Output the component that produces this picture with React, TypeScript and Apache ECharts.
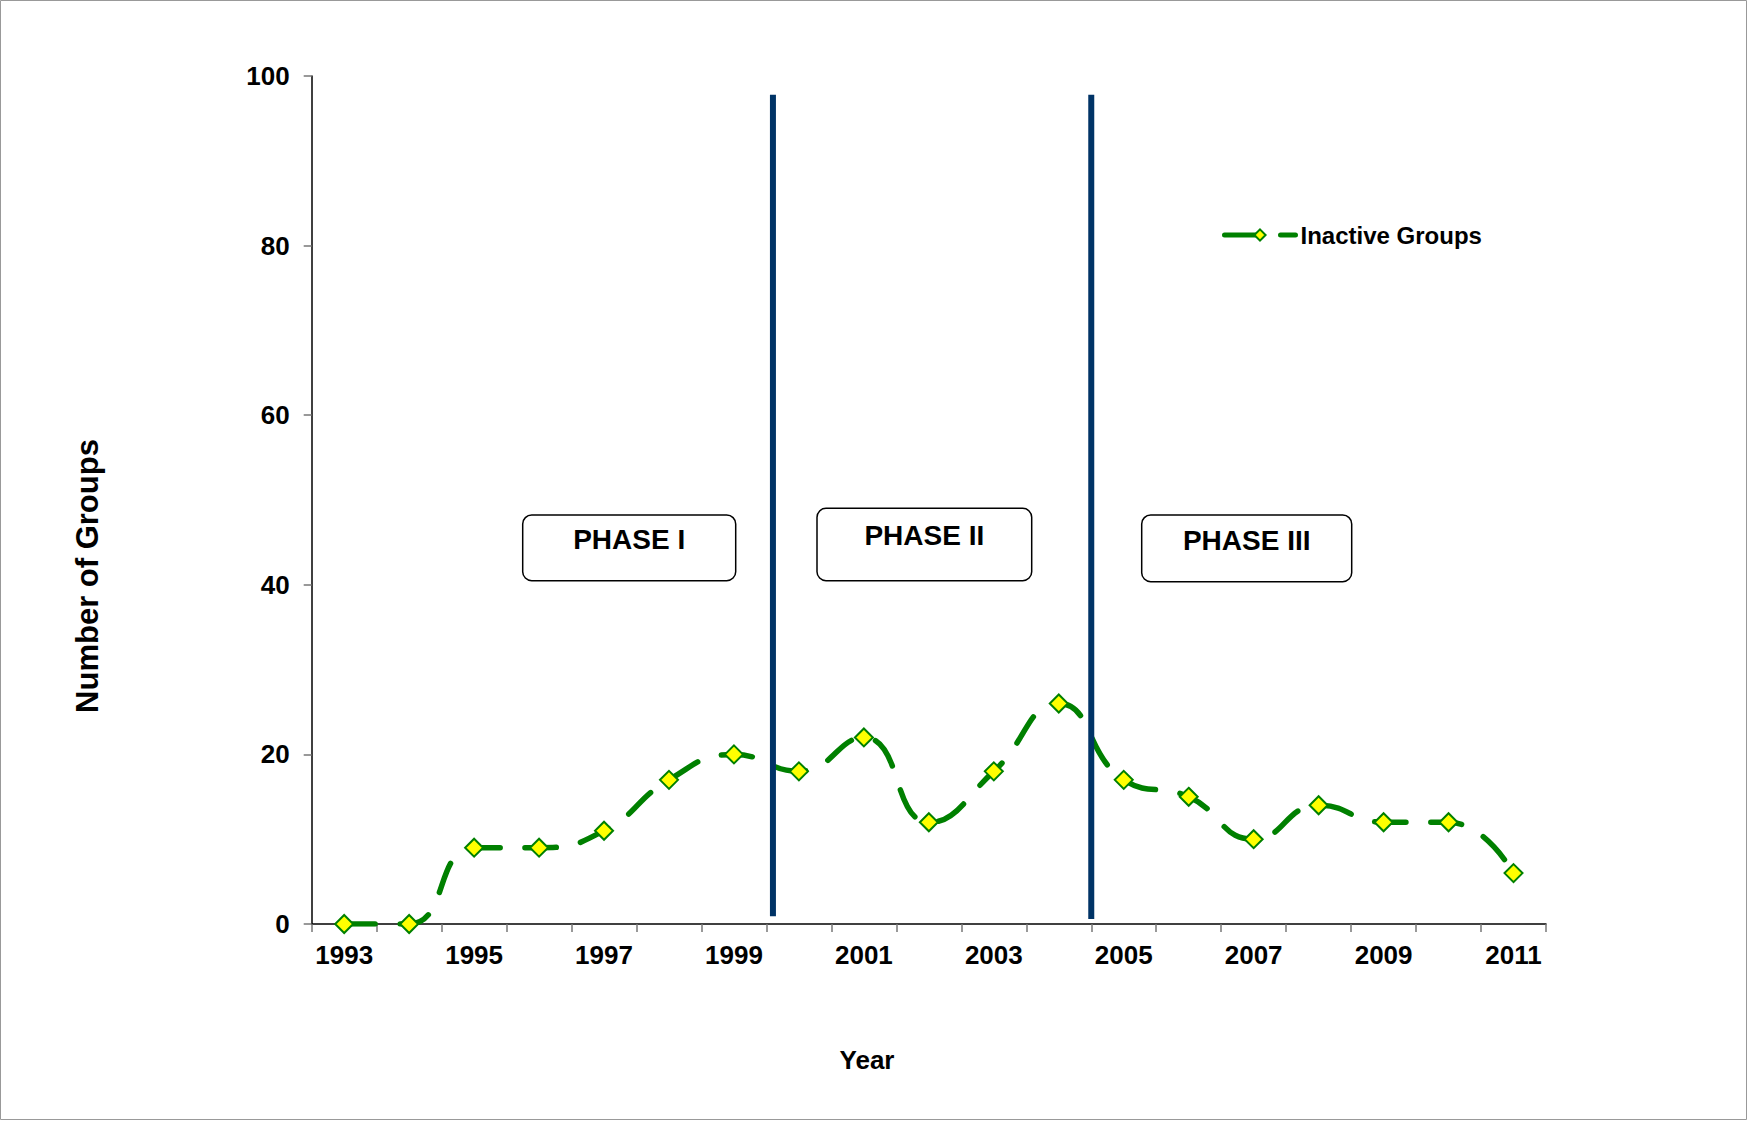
import React, { useEffect, useRef } from "react";
import * as echarts from "echarts";

const years = ["1993","1994","1995","1996","1997","1998","1999","2000","2001","2002","2003","2004","2005","2006","2007","2008","2009","2010","2011"];
const inactiveGroups = [0, 0, 9, 9, 11, 17, 20, 18, 22, 12, 18, 26, 17, 15, 10, 14, 12, 12, 6];
const phaseBoundaries = [7.1, 12];
const phaseLineTop = [97.8, 97.8];
const phaseLineBottom = [0.9, 0.6];
const phaseLabels = ["PHASE I", "PHASE II", "PHASE III"];
const yTicks = { min: 0, max: 100, interval: 20 };

const FONT = '"Liberation Sans", Arial, sans-serif';

export default function App() {
  const ref = useRef<HTMLDivElement>(null);
  useEffect(() => {
    document.body.style.margin = "0";
    if (!ref.current) return;
    const chart = echarts.init(ref.current, null, { renderer: "svg" });

    const boxes = [
      { x: 522.7, y: 515, w: 213, h: 65.7, ty: 539.6 },
      { x: 817, y: 508.3, w: 214.7, h: 72.4, ty: 535 },
      { x: 1141.7, y: 515, w: 210, h: 66.7, ty: 540.7 },
    ];

    const graphic: any[] = [
      {
        type: "rect",
        shape: { x: 0.5, y: 0.5, width: 1746, height: 1119 },
        style: { fill: "none", stroke: "#999", lineWidth: 1 },
        silent: true,
        z: 0,
      },
      {
        type: "text",
        x: 87,
        y: 576,
        rotation: Math.PI / 2,
        style: {
          text: "Number of Groups",
          font: `bold 31px ${FONT}`,
          fill: "#000",
          align: "center",
          verticalAlign: "middle",
          textAlign: "center",
          textVerticalAlign: "middle",
        },
      },
      {
        type: "text",
        x: 867,
        y: 1060,
        style: {
          text: "Year",
          font: `bold 26px ${FONT}`,
          fill: "#000",
          align: "center",
          verticalAlign: "middle",
          textAlign: "center",
          textVerticalAlign: "middle",
        },
      },
    ];
    boxes.forEach((b, i) => {
      graphic.push({
        type: "rect",
        shape: { x: b.x, y: b.y, width: b.w, height: b.h, r: 9 },
        style: { fill: "#fff", stroke: "#000", lineWidth: 1.5 },
        z: 10,
      });
      graphic.push({
        type: "text",
        x: b.x + b.w / 2,
        y: b.ty,
        z: 11,
        style: {
          text: phaseLabels[i],
          font: `bold 28px ${FONT}`,
          fill: "#000",
          align: "center",
          verticalAlign: "middle",
          textAlign: "center",
          textVerticalAlign: "middle",
        },
      });
    });

    const phaseSeries = phaseBoundaries.map((b, i) => ({
      name: "phase" + i,
      type: "line",
      xAxisIndex: 1,
      yAxisIndex: 0,
      data: [[b, phaseLineBottom[i]], [b, phaseLineTop[i]]],
      symbol: "none",
      lineStyle: { color: "#003366", width: 6, cap: "butt" },
      z: 5,
      silent: true,
    }));

    chart.setOption({
      animation: false,
      backgroundColor: "#fff",
      textStyle: { fontFamily: FONT },
      grid: { left: 311.7, right: 202, top: 76, bottom: 197, containLabel: false },
      legend: {
        data: ["Inactive Groups"],
        left: 1222,
        top: 221,
        padding: 0,
        itemWidth: 71,
        itemHeight: 14,
        lineStyle: { color: "#008000", width: 5, type: [31, 25], cap: "round" },
        textStyle: { fontSize: 24, fontWeight: "bold", color: "#000", fontFamily: FONT, lineHeight: 28 },
      },
      xAxis: [
        {
          type: "category",
          data: years,
          boundaryGap: true,
          axisLine: { lineStyle: { color: "#000", width: 1.5 } },
          axisTick: { show: true, length: 8, interval: 0, lineStyle: { color: "#777", width: 1.5 } },
          axisLabel: {
            interval: 1,
            margin: 18,
            fontSize: 26,
            fontWeight: "bold",
            color: "#000",
            fontFamily: FONT,
          },
          splitLine: { show: false },
        },
        {
          type: "value",
          min: 0,
          max: 19,
          show: false,
          splitLine: { show: false },
        },
      ],
      yAxis: {
        type: "value",
        min: yTicks.min,
        max: yTicks.max,
        interval: yTicks.interval,
        axisLine: { show: true, lineStyle: { color: "#000", width: 1.5 } },
        axisTick: { show: true, length: 8, lineStyle: { color: "#777", width: 1.5 } },
        axisLabel: { margin: 22, fontSize: 26, fontWeight: "bold", color: "#000", fontFamily: FONT },
        splitLine: { show: false },
      },
      series: [
        {
          name: "Inactive Groups",
          type: "line",
          data: inactiveGroups,
          smooth: 0.5,
          symbol: "diamond",
          symbolSize: 18,
          itemStyle: { color: "#FFFF00", borderColor: "#008000", borderWidth: 2 },
          lineStyle: { color: "#008000", width: 5.5, type: [31, 25], cap: "round" },
          z: 3,
        },
        ...phaseSeries,
      ],
      graphic,
    });
    return () => chart.dispose();
  }, []);
  return (
    <div
      ref={ref}
      style={{ width: 1748, height: 1121, position: "absolute", left: 0, top: 0 }}
    />
  );
}
